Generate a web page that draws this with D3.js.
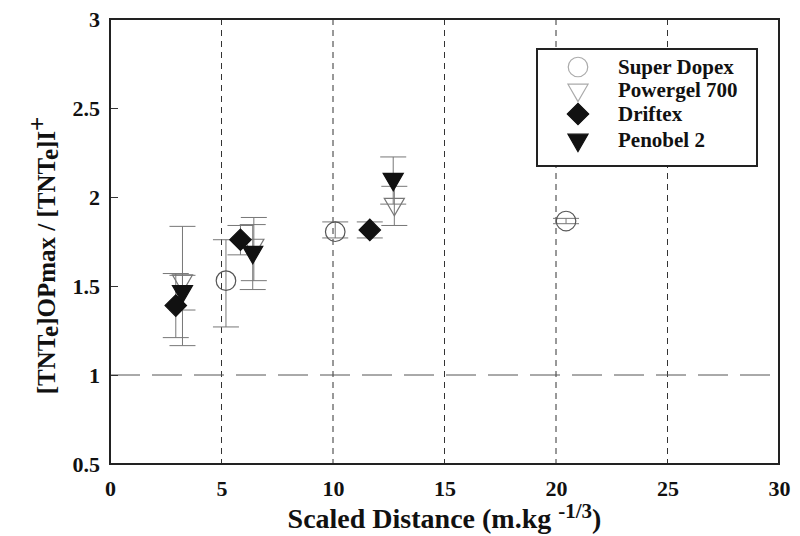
<!DOCTYPE html>
<html>
<head>
<meta charset="utf-8">
<script src="https://cdn.jsdelivr.net/npm/d3@7"></script>
<style>
  body { margin: 0; background: #fff; }
  text { font-family: "Liberation Serif", "Times New Roman", serif; font-weight: bold; fill: #111; }
</style>
</head>
<body>
<svg id="chart" width="800" height="536"></svg>
<script>
// series names
const seriesNames = ["Super Dopex", "Powergel 700", "Driftex", "Penobel 2"];

// Super Dopex (open circle)
const dopexX = [5.2, 10.1, 20.45];
const dopexY = [1.53, 1.805, 1.865];
const dopexLo = [1.27, 1.77, 1.85];
const dopexHi = [1.76, 1.86, 1.88];

// Powergel 700 (open down triangle)
const powergelX = [3.25, 6.45, 12.75];
const powergelY = [1.53, 1.73, 1.96];
const powergelLo = [1.365, 1.53, 1.84];
const powergelHi = [1.56, 1.885, 2.06];

// Driftex (filled diamond)
const driftexX = [2.95, 5.85, 11.65];
const driftexY = [1.39, 1.76, 1.815];
const driftexLo = [1.21, 1.675, 1.77];
const driftexHi = [1.57, 1.84, 1.86];

// Penobel 2 (filled down triangle)
const penobelX = [3.25, 6.4, 12.7];
const penobelY = [1.47, 1.69, 2.10];
const penobelLo = [1.165, 1.48, 1.96];
const penobelHi = [1.835, 1.845, 2.225];

const xTicks = [0, 5, 10, 15, 20, 25, 30];
const yTicks = [0.5, 1, 1.5, 2, 2.5, 3];
const xGrid = [5, 10, 15, 20, 25];
const refLine = 1;

let margin = {top: 19, right: 21, bottom: 72, left: 110},
    width = 800 - margin.left - margin.right,
    height = 536 - margin.top - margin.bottom,
    x = d3.scaleLinear().domain([0, 30]).range([0, width]),
    y = d3.scaleLinear().domain([0.5, 3]).range([height, 0]);

let svg = d3.select("#chart");
let g = svg.append("g").attr("transform", "translate(" + margin.left + "," + margin.top + ")");

function zip(xs, ys, lo, hi) {
    return xs.map((d, i) => ({x: d, y: ys[i], lo: lo[i], hi: hi[i]}));
}
let dopex = zip(dopexX, dopexY, dopexLo, dopexHi),
    powergel = zip(powergelX, powergelY, powergelLo, powergelHi),
    driftex = zip(driftexX, driftexY, driftexLo, driftexHi),
    penobel = zip(penobelX, penobelY, penobelLo, penobelHi);

// grid lines
g.selectAll("line.grid").data(xGrid).enter().append("line")
    .attr("class", "grid")
    .attr("x1", d => x(d)).attr("x2", d => x(d))
    .attr("y1", 0).attr("y2", height)
    .attr("stroke", "#333").attr("stroke-width", 1)
    .attr("stroke-dasharray", "6,5");

g.append("line")
    .attr("x1", 0).attr("x2", width)
    .attr("y1", y(refLine)).attr("y2", y(refLine))
    .attr("stroke", "#555").attr("stroke-width", 1)
    .attr("stroke-dasharray", "30,12");

// axes
let yAxis = d3.axisLeft(y).tickValues(yTicks).tickSize(-8).tickPadding(10).tickFormat(d3.format("~g"));
let xAxis = d3.axisBottom(x).tickValues(xTicks).tickSize(0).tickPadding(16);
g.append("g").attr("class", "axis axis--y").call(yAxis);
g.append("g").attr("class", "axis axis--x").attr("transform", "translate(0," + height + ")").call(xAxis);
g.selectAll(".axis path").remove();
g.selectAll(".axis line").attr("stroke", "#333");
g.selectAll(".axis text").style("font-size", "22px").attr("fill", "#111")
    .style("font-family", "'Liberation Serif', serif").style("font-weight", "bold");

// frame
g.append("rect")
    .attr("x", 0).attr("y", 0).attr("width", width).attr("height", height)
    .attr("fill", "none").attr("stroke", "#222").attr("stroke-width", 2);

// error bars
let allSeries = [dopex, powergel, driftex, penobel];
let capW = 13;
allSeries.forEach(s => {
    let eb = g.append("g").attr("class", "errbars");
    eb.selectAll("line.v").data(s).enter().append("line")
        .attr("x1", d => x(d.x)).attr("x2", d => x(d.x))
        .attr("y1", d => y(d.lo)).attr("y2", d => y(d.hi))
        .attr("stroke", "#777").attr("stroke-width", 1);
    eb.selectAll("line.lo").data(s).enter().append("line")
        .attr("x1", d => x(d.x) - capW).attr("x2", d => x(d.x) + capW)
        .attr("y1", d => y(d.lo)).attr("y2", d => y(d.lo))
        .attr("stroke", "#777").attr("stroke-width", 1);
    eb.selectAll("line.hi").data(s).enter().append("line")
        .attr("x1", d => x(d.x) - capW).attr("x2", d => x(d.x) + capW)
        .attr("y1", d => y(d.hi)).attr("y2", d => y(d.hi))
        .attr("stroke", "#777").attr("stroke-width", 1);
});

// marker styles
let styles = [
    {type: d3.symbolCircle, size: 300, rot: 0, fill: "none", stroke: "#555"},
    {type: d3.symbolTriangle, size: 175, rot: 180, fill: "none", stroke: "#777"},
    {type: d3.symbolSquare, size: 230, rot: 45, fill: "#111", stroke: "#111"},
    {type: d3.symbolTriangle, size: 175, rot: 180, fill: "#111", stroke: "#111"}
];

function drawMarkers(data, st) {
    g.append("g").selectAll("path").data(data).enter().append("path")
        .attr("d", d3.symbol().type(st.type).size(st.size))
        .attr("transform", d => "translate(" + x(d.x) + "," + y(d.y) + ") rotate(" + st.rot + ")")
        .attr("fill", st.fill).attr("stroke", st.stroke).attr("stroke-width", 1.2);
}
[0, 1, 2, 3].forEach(i => drawMarkers(allSeries[i], styles[i]));

// legend
let lg = svg.append("g").attr("transform", "translate(537,49)");
lg.append("rect").attr("width", 220).attr("height", 117)
    .attr("fill", "#fff").attr("stroke", "#222").attr("stroke-width", 2);
let rowY = [18, 41, 65, 91];
seriesNames.forEach((name, i) => {
    let st = styles[i];
    lg.append("path")
        .attr("d", d3.symbol().type(st.type).size(st.size))
        .attr("transform", "translate(41," + rowY[i] + ") rotate(" + st.rot + ")")
        .attr("fill", st.fill).attr("stroke", i < 2 ? "#aaa" : st.stroke).attr("stroke-width", 1.2);
    lg.append("text").attr("x", 81).attr("y", rowY[i] + 7)
        .style("font-size", "21px").text(name);
});

// axis titles
let xt = svg.append("text")
    .attr("x", margin.left + width / 2).attr("y", 528)
    .attr("text-anchor", "middle").style("font-size", "28px");
xt.append("tspan").text("Scaled Distance (m.kg ");
xt.append("tspan").attr("dy", -10).style("font-size", "21px").text("-1/3");
xt.append("tspan").attr("dy", 10).text(")");

let yt = svg.append("text")
    .attr("transform", "translate(55," + (margin.top + height / 2 + 14) + ") rotate(-90)")
    .attr("text-anchor", "middle").style("font-size", "25px");
yt.append("tspan").text("[TNT");
yt.append("tspan").attr("dy", 3).text("e");
yt.append("tspan").attr("dy", -3).text("]OPmax / [TNT");
yt.append("tspan").attr("dy", 3).text("e");
yt.append("tspan").attr("dy", -3).text("]I");
yt.append("tspan").attr("dy", -9).text("+");
</script>
</body>
</html>
